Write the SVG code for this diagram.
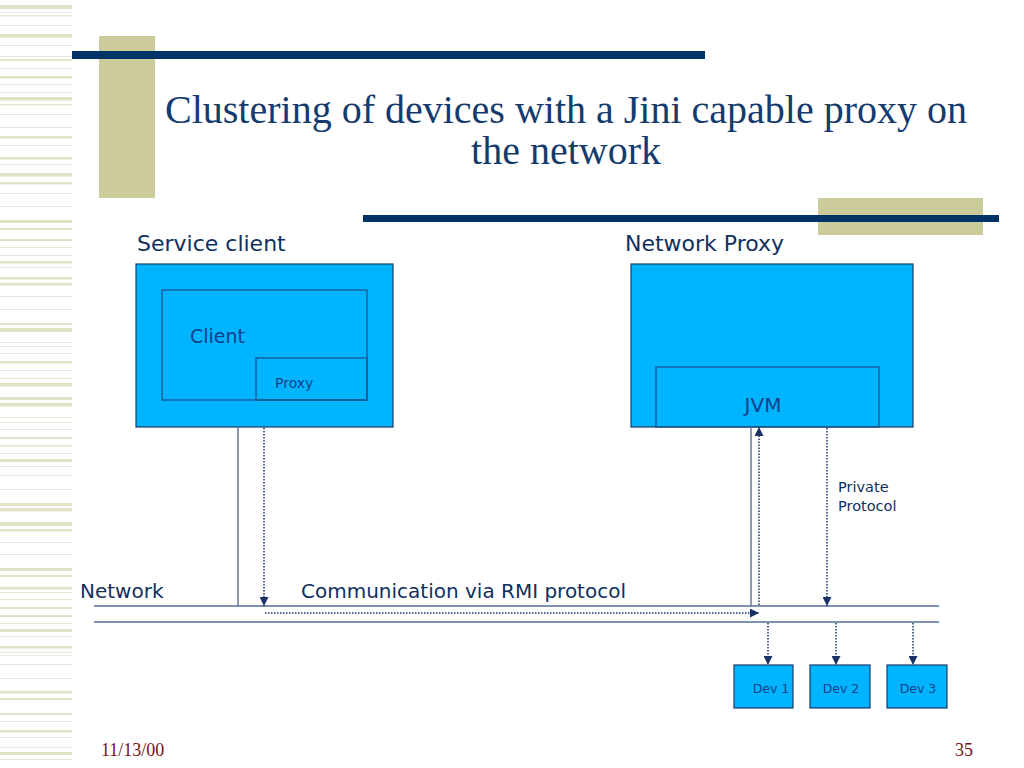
<svg xmlns="http://www.w3.org/2000/svg" width="1024" height="768" viewBox="0 0 1024 768">
<style>
.tk{fill:#e2e2c6}
.tn{fill:#e8e8da}
.title{font-family:"Liberation Serif","Times New Roman",serif;font-size:40px;fill:#143a6e}
.lbl{font-family:"DejaVu Sans",Verdana,sans-serif;fill:#102f5e}
.in{font-family:"DejaVu Sans",Verdana,sans-serif;fill:#15408a}
.box{fill:#00b4ff;stroke:#1a3a6b;stroke-width:1.2}
.ibox{fill:none;stroke:#1d5590;stroke-width:1.3}
.solid{stroke:#667a96;stroke-width:1.5;fill:none}
.net{stroke:#4f6f96;stroke-width:1.5;fill:none}
.dot{stroke:#1a3366;stroke-width:1.5;stroke-dasharray:1.5 1.5;fill:none}
.foot{font-family:"Liberation Serif","Times New Roman",serif;font-size:18px;fill:#7a1020}
</style>
<defs>
<marker id="ah" viewBox="0 0 10 10" refX="10" refY="5" markerWidth="9" markerHeight="9" markerUnits="userSpaceOnUse" orient="auto">
<path d="M0,0 L10,5 L0,10 Z" fill="#1a3366"/>
</marker>
</defs>
<rect width="1024" height="768" fill="#ffffff"/>
<g id="stripes">
<rect class="tk" x="0" y="5" width="72" height="4"/>
<rect class="tn" x="0" y="12" width="72" height="1"/>
<rect class="tn" x="0" y="15" width="72" height="1.5"/>
<rect class="tn" x="0" y="25" width="72" height="1"/>
<rect class="tk" x="0" y="34" width="72" height="3.5"/>
<rect class="tn" x="0" y="45" width="72" height="1"/>
<rect class="tn" x="0" y="56" width="72" height="1"/>
<rect class="tk" x="0" y="59" width="72" height="2"/>
<rect class="tn" x="0" y="68" width="72" height="1"/>
<rect class="tk" x="0" y="76" width="72" height="2.5"/>
<rect class="tn" x="0" y="84" width="72" height="1"/>
<rect class="tn" x="0" y="92" width="72" height="1"/>
<rect class="tk" x="0" y="97" width="72" height="3.5"/>
<rect class="tn" x="0" y="104" width="72" height="1.5"/>
<rect class="tn" x="0" y="114" width="72" height="1"/>
<rect class="tn" x="0" y="127" width="72" height="1"/>
<rect class="tk" x="0" y="136" width="72" height="2.5"/>
<rect class="tn" x="0" y="145" width="72" height="1"/>
<rect class="tk" x="0" y="157" width="72" height="2.5"/>
<rect class="tn" x="0" y="164" width="72" height="1"/>
<rect class="tk" x="0" y="173" width="72" height="3.5"/>
<rect class="tk" x="0" y="182" width="72" height="2.5"/>
<rect class="tn" x="0" y="193" width="72" height="1"/>
<rect class="tn" x="0" y="206" width="72" height="1"/>
<rect class="tk" x="0" y="220" width="72" height="3"/>
<rect class="tk" x="0" y="228" width="72" height="2"/>
<rect class="tk" x="0" y="239" width="72" height="2"/>
<rect class="tn" x="0" y="247" width="72" height="1"/>
<rect class="tn" x="0" y="255" width="72" height="1"/>
<rect class="tk" x="0" y="261" width="72" height="2.5"/>
<rect class="tn" x="0" y="267" width="72" height="1"/>
<rect class="tk" x="0" y="277" width="72" height="2.5"/>
<rect class="tk" x="0" y="283" width="72" height="2.5"/>
<rect class="tn" x="0" y="296" width="72" height="1"/>
<rect class="tn" x="0" y="309" width="72" height="1"/>
<rect class="tk" x="0" y="323" width="72" height="2"/>
<rect class="tk" x="0" y="328" width="72" height="4"/>
<rect class="tn" x="0" y="342" width="72" height="1"/>
<rect class="tn" x="0" y="346" width="72" height="1"/>
<rect class="tn" x="0" y="353" width="72" height="1"/>
<rect class="tk" x="0" y="361" width="72" height="2.5"/>
<rect class="tn" x="0" y="370" width="72" height="1"/>
<rect class="tn" x="0" y="378" width="72" height="1"/>
<rect class="tk" x="0" y="383" width="72" height="3.5"/>
<rect class="tk" x="0" y="397" width="72" height="3"/>
<rect class="tk" x="0" y="403" width="72" height="3.5"/>
<rect class="tn" x="0" y="417" width="72" height="1"/>
<rect class="tn" x="0" y="422" width="72" height="1"/>
<rect class="tn" x="0" y="429" width="72" height="1"/>
<rect class="tk" x="0" y="437" width="72" height="2"/>
<rect class="tk" x="0" y="445" width="72" height="1.5"/>
<rect class="tn" x="0" y="453" width="72" height="1"/>
<rect class="tk" x="0" y="459" width="72" height="3"/>
<rect class="tn" x="0" y="466" width="72" height="1"/>
<rect class="tn" x="0" y="475" width="72" height="1"/>
<rect class="tn" x="0" y="489" width="72" height="1"/>
<rect class="tk" x="0" y="503" width="72" height="3"/>
<rect class="tk" x="0" y="508" width="72" height="3.5"/>
<rect class="tk" x="0" y="522" width="72" height="4"/>
<rect class="tk" x="0" y="529" width="72" height="2.5"/>
<rect class="tn" x="0" y="542" width="72" height="1"/>
<rect class="tn" x="0" y="554" width="72" height="1"/>
<rect class="tk" x="0" y="568" width="72" height="3"/>
<rect class="tk" x="0" y="575" width="72" height="2"/>
<rect class="tk" x="0" y="587" width="72" height="2.5"/>
<rect class="tn" x="0" y="592" width="72" height="1"/>
<rect class="tn" x="0" y="599" width="72" height="1"/>
<rect class="tk" x="0" y="607" width="72" height="2"/>
<rect class="tk" x="0" y="615" width="72" height="2"/>
<rect class="tn" x="0" y="623" width="72" height="1"/>
<rect class="tk" x="0" y="629" width="72" height="3"/>
<rect class="tn" x="0" y="636" width="72" height="1"/>
<rect class="tk" x="0" y="646" width="72" height="2.5"/>
<rect class="tn" x="0" y="652" width="72" height="1"/>
<rect class="tn" x="0" y="655" width="72" height="1"/>
<rect class="tn" x="0" y="664" width="72" height="1"/>
<rect class="tn" x="0" y="678" width="72" height="1"/>
<rect class="tk" x="0" y="691" width="72" height="2.5"/>
<rect class="tk" x="0" y="698" width="72" height="2"/>
<rect class="tk" x="0" y="713" width="72" height="2"/>
<rect class="tn" x="0" y="721" width="72" height="1"/>
<rect class="tk" x="0" y="730" width="72" height="2.5"/>
<rect class="tn" x="0" y="737" width="72" height="1"/>
<rect class="tn" x="0" y="747" width="72" height="1"/>
<rect class="tk" x="0" y="752" width="72" height="3"/>
<rect class="tn" x="0" y="759" width="72" height="1"/>
</g>
<g id="decor">
<rect x="99" y="36" width="56" height="162" fill="#cbcb9b"/>
<rect x="72" y="51" width="633" height="8" fill="#003366"/>
<rect x="818" y="198" width="165" height="37" fill="#cbcb9b"/>
<rect x="363" y="215" width="636" height="7" fill="#003366"/>
</g>
<g id="title">
<text class="title" x="566" y="123" text-anchor="middle">Clustering of devices with a Jini capable proxy on</text>
<text class="title" x="566" y="164" text-anchor="middle">the network</text>
</g>
<g id="service-client">
<text class="lbl" x="137" y="251" font-size="22">Service client</text>
<rect class="box" x="136" y="264" width="257" height="163"/>
<g id="client">
<rect class="ibox" x="162" y="290" width="205" height="110"/>
<text class="in" x="190" y="343" font-size="19">Client</text>
</g>
<g id="proxy">
<rect class="ibox" x="256" y="358" width="111" height="42"/>
<text class="in" x="275" y="388" font-size="14">Proxy</text>
</g>
</g>
<g id="network-proxy">
<text class="lbl" x="625" y="251" font-size="22">Network Proxy</text>
<rect class="box" x="631" y="264" width="282" height="163"/>
<g id="jvm">
<rect class="ibox" x="656" y="367" width="223" height="60"/>
<text class="in" x="763" y="412" font-size="20" text-anchor="middle">JVM</text>
</g>
</g>
<g id="network">
<text class="lbl" x="80" y="598" font-size="20">Network</text>
<text class="lbl" x="301" y="598" font-size="20">Communication via RMI protocol</text>
<line class="net" x1="94" y1="606" x2="939" y2="606"/>
<line class="net" x1="94" y1="622" x2="939" y2="622"/>
</g>
<g id="connectors">
<line class="solid" x1="238" y1="427" x2="238" y2="606"/>
<line class="dot" x1="264" y1="428" x2="264" y2="606" marker-end="url(#ah)"/>
<line class="dot" x1="265" y1="613" x2="759" y2="613" marker-end="url(#ah)"/>
<line class="solid" x1="751" y1="427" x2="751" y2="606"/>
<line class="dot" x1="759" y1="605" x2="759" y2="427" marker-end="url(#ah)"/>
<line class="dot" x1="827" y1="428" x2="827" y2="606" marker-end="url(#ah)"/>
<line class="dot" x1="768" y1="623" x2="768" y2="665" marker-end="url(#ah)"/>
<line class="dot" x1="836" y1="623" x2="836" y2="665" marker-end="url(#ah)"/>
<line class="dot" x1="913" y1="623" x2="913" y2="665" marker-end="url(#ah)"/>
</g>
<g id="private-protocol">
<text class="lbl" x="838" y="492" font-size="14.5">Private</text>
<text class="lbl" x="838" y="511" font-size="14.5">Protocol</text>
</g>
<g id="dev1">
<rect class="box" x="734" y="665" width="59" height="43"/>
<text class="in" x="771" y="693" font-size="12.5" text-anchor="middle">Dev 1</text>
</g>
<g id="dev2">
<rect class="box" x="810" y="665" width="60" height="43"/>
<text class="in" x="841" y="693" font-size="12.5" text-anchor="middle">Dev 2</text>
</g>
<g id="dev3">
<rect class="box" x="887" y="665" width="60" height="43"/>
<text class="in" x="918" y="693" font-size="12.5" text-anchor="middle">Dev 3</text>
</g>
<g id="footer">
<text class="foot" x="101" y="756">11/13/00</text>
<text class="foot" x="973" y="756" text-anchor="end">35</text>
</g>
</svg>
